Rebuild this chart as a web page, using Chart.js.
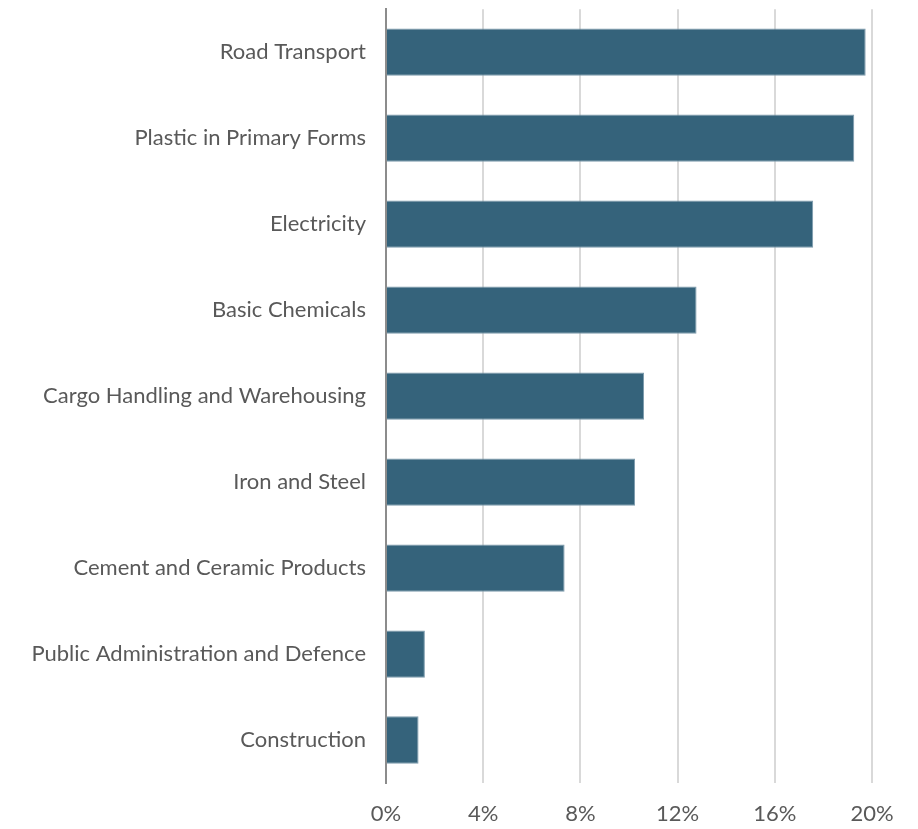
<!DOCTYPE html>
<html>
<head>
<meta charset="utf-8">
<script src="https://cdn.jsdelivr.net/npm/chart.js@4/dist/chart.umd.min.js"></script>
<style>
  html, body { margin: 0; padding: 0; background: #ffffff; overflow: hidden; }
  #frame { width: 918px; height: 829px; overflow: hidden; position: relative; }
  /* the category axis reserves room above the first band; lift the canvas to use it */
  #wrap { width: 918px; height: 853px; position: absolute; top: -24px; left: 0; }
</style>
</head>
<body>
<div id="frame"><div id="wrap"><canvas id="c"></canvas></div></div>
<script>
// Sectors, in display order (top to bottom)
const sectors = [
  "Road Transport",
  "Plastic in Primary Forms",
  "Electricity",
  "Basic Chemicals",
  "Cargo Handling and Warehousing",
  "Iron and Steel",
  "Cement and Ceramic Products",
  "Public Administration and Defence",
  "Construction"
];

// Share per sector, in percent
const shares = [19.74, 19.27, 17.58, 12.78, 10.62, 10.25, 7.35, 1.60, 1.34];

// Axis tick settings (percent)
const axisMax = 20;
const axisStep = 4;

const labelFont = { family: "Lato, 'Open Sans', sans-serif", size: 22 };
const labelColor = "#595959";

new Chart(document.getElementById("c"), {
  type: "bar",
  data: {
    labels: sectors,
    datasets: [{
      data: shares,
      backgroundColor: "#35637b",
      borderColor: "#7c9aac",
      borderWidth: 1,
      borderSkipped: "left",
      barPercentage: 0.55,
      categoryPercentage: 1.0
    }]
  },
  options: {
    indexAxis: "y",
    responsive: true,
    maintainAspectRatio: false,
    animation: false,
    layout: { padding: { top: 0, right: 46, bottom: 0, left: 0 } },
    plugins: {
      legend: { display: false },
      tooltip: { enabled: false }
    },
    scales: {
      x: {
        min: 0,
        max: axisMax,
        ticks: {
          stepSize: axisStep,
          color: labelColor,
          font: labelFont,
          padding: 18,
          callback: v => v + "%"
        },
        grid: {
          color: "#d9d9d9",
          lineWidth: 2,
          drawTicks: false
        },
        border: { display: false },
        afterFit: s => { s.height = 46; }
      },
      y: {
        ticks: {
          color: labelColor,
          font: labelFont,
          padding: 20
        },
        grid: { display: false, drawTicks: false },
        border: { display: true, color: "#8c8c8c", width: 2 },
        afterFit: s => { s.width = 386; }
      }
    }
  }
});
</script>
</body>
</html>
